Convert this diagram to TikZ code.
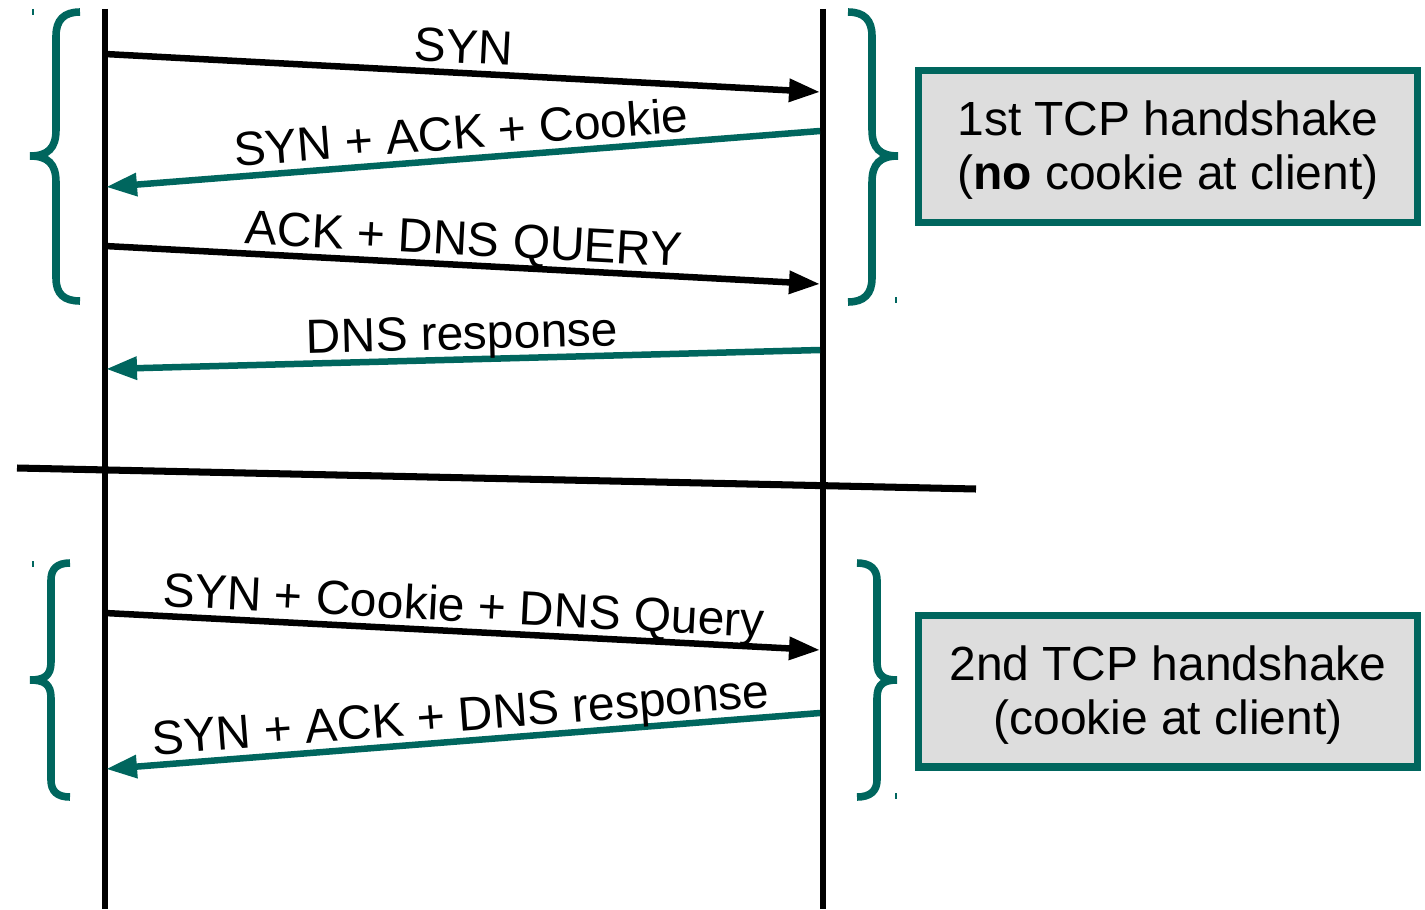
\documentclass[tikz,border=0pt]{standalone}
\usepackage{fontspec}
\setmainfont{Liberation Sans}
\usetikzlibrary{arrows.meta}
\definecolor{tcpteal}{HTML}{00665E}
\definecolor{boxgray}{HTML}{DDDDDD}
\begin{document}
\begin{tikzpicture}[x=0.02cm, y=-0.02cm,
  life/.style={line width=3.7pt},
  msg/.style={line width=3.7pt, -{Triangle[length=0.62cm,width=0.44cm]}},
  reply/.style={msg, draw=tcpteal},
  lbl/.style={sloped, above=3.8pt, text depth=0pt, inner sep=0pt,
    font=\fontsize{27.3}{29}\selectfont, text=black},
  brc/.style={draw=tcpteal, line width=4.3pt},
  tick/.style={draw=tcpteal, line width=1pt},
  box/.style={draw=tcpteal, fill=boxgray, line width=4pt,
    minimum width=10cm, minimum height=3.04cm, inner sep=0pt,
    align=center, font=\fontsize{27.3}{30.5}\selectfont},
]
\useasboundingbox (0,0) rectangle (1425,909);

% lifelines: client (left) and server (right)
\coordinate (cT) at (105,9);  \coordinate (cB) at (105,909);
\coordinate (sT) at (823,9);  \coordinate (sB) at (823,909);
\draw[life] (cT) -- (cB);
\draw[life] (sT) -- (sB);

% first handshake
\coordinate (m1a) at (105,54);  \coordinate (m1b) at (820,92);
\draw[msg] (m1a) -- node[lbl] (l1) {SYN} (m1b);
\coordinate (m2a) at (820,131); \coordinate (m2b) at (106,187);
\draw[reply] (m2a) -- node[lbl] (l2) {SYN + ACK + Cookie} (m2b);
\coordinate (m3a) at (105,246); \coordinate (m3b) at (820,284);
\draw[msg] (m3a) -- node[lbl] (l3) {ACK + DNS QUERY} (m3b);
\coordinate (m4a) at (820,350); \coordinate (m4b) at (106,369);
\draw[reply] (m4a) -- node[lbl] (l4) {DNS response} (m4b);

% separator
\coordinate (d1) at (17,468); \coordinate (d2) at (976,489);
\draw[line width=4pt] (d1) -- (d2);

% second handshake
\coordinate (m6a) at (105,613); \coordinate (m6b) at (820,650);
\draw[msg] (m6a) -- node[lbl] (l6) {SYN + Cookie + DNS Query} (m6b);
\coordinate (m7a) at (820,713); \coordinate (m7b) at (106,769);
\draw[reply] (m7a) -- node[lbl] (l7) {SYN + ACK + DNS response} (m7b);

% braces
\draw[brc] (80,12) .. controls (64,12) and (56,20) .. (56,36) -- (56,130)
  .. controls (56,148) and (48,156) .. (30,156)
  .. controls (48,156) and (56,164) .. (56,182) -- (56,278)
  .. controls (56,294) and (64,301) .. (80,301);
\draw[brc] (848,12) .. controls (864,12) and (872,20) .. (872,36) -- (872,130)
  .. controls (872,148) and (880,156) .. (898,156)
  .. controls (880,156) and (872,164) .. (872,182) -- (872,278)
  .. controls (872,294) and (864,302) .. (848,302);
\draw[brc] (70,563) .. controls (57,563) and (51,569) .. (51,580) -- (51,662)
  .. controls (51,676) and (44,680) .. (30,680)
  .. controls (44,680) and (51,684) .. (51,698) -- (51,780)
  .. controls (51,791) and (57,797) .. (70,797);
\draw[brc] (857,563) .. controls (870,563) and (877,569) .. (877,580) -- (877,662)
  .. controls (877,676) and (884,680) .. (897,680)
  .. controls (884,680) and (877,684) .. (877,698) -- (877,780)
  .. controls (877,791) and (870,797) .. (857,797);

% small marks beside the braces
\draw[tick] (33,9) -- (33,15);
\draw[tick] (896,297) -- (896,303);
\draw[tick] (33,561) -- (33,567);
\draw[tick] (896,793) -- (896,799);

% annotation boxes
\node[box] (h1) at (1168,146.5) {};
\node[align=center, font=\fontsize{27.3}{30.5}\selectfont] (t1) at (1168,150)
  {1st TCP handshake\\(\textbf{no} cookie at client)};
\node[box] (h2) at (1168,691) {};
\node[align=center, font=\fontsize{27.3}{30.5}\selectfont] (t2) at (1168,695)
  {2nd TCP handshake\\(cookie at client)};
\end{tikzpicture}
\end{document}
